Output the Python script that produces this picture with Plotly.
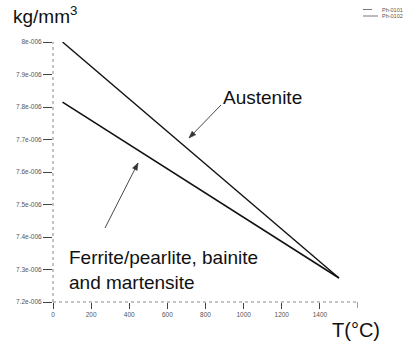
import math
import plotly.graph_objects as go

# Data
temp_austenite = [50, 1500]
dens_austenite = [8.0e-6, 7.274e-6]
temp_ferrite = [50, 1500]
dens_ferrite = [7.815e-6, 7.274e-6]

x_ticks = [0, 200, 400, 600, 800, 1000, 1200, 1400]
x_ticktext = ["0", "200", "400", "600", "800", "1000", "1200", "1400"]
y_ticks = [7.2e-6, 7.3e-6, 7.4e-6, 7.5e-6, 7.6e-6, 7.7e-6, 7.8e-6, 7.9e-6, 8.0e-6]
y_ticktext = ["7.2e-006", "7.3e-006", "7.4e-006", "7.5e-006", "7.6e-006",
              "7.7e-006", "7.8e-006", "7.9e-006", "8e-006"]
legend_names = ["Ph-0101", "Ph-0102"]

W, H = 415, 356
L, R, T, B = 53, 57, 42, 54
FONT = "Liberation Sans, Arial, sans-serif"

fig = go.Figure()
fig.add_trace(go.Scatter(x=temp_austenite, y=dens_austenite, mode="lines",
                         line=dict(color="#111", width=1.4), showlegend=False))
fig.add_trace(go.Scatter(x=temp_ferrite, y=dens_ferrite, mode="lines",
                         line=dict(color="#111", width=1.6), showlegend=False))


def pap(xp, yp):
    return (xp - L) / (W - L - R), ((H - B) - yp) / (H - T - B)


shapes = [
    dict(type="line", xref="paper", yref="paper", x0=0, x1=1.0, y0=0, y1=0,
         line=dict(color="#888", width=1, dash="dot")),
    dict(type="line", xref="paper", yref="paper", x0=0, x1=0, y0=0, y1=1.0,
         line=dict(color="#888", width=1, dash="dot")),
    # unlabelled end tick at 1600
    dict(type="line", xref="x", yref="paper", x0=1600, x1=1600, y0=0,
         y1=-6 / (H - T - B), line=dict(color="#444", width=1)),
]

annotations = []


def label(text, xp, yp, size, color="#111"):
    x, y = pap(xp, yp)
    annotations.append(dict(text=text, xref="paper", yref="paper", x=x, y=y,
                            xanchor="left", yanchor="middle", align="left",
                            showarrow=False,
                            font=dict(size=size, color=color, family=FONT)))


label("kg/mm<sup>3</sup>", 11, 15, 19)
label("T(°C)", 330, 330, 20)
label("Austenite", 221, 97, 19)
label("Ferrite/pearlite, bainite<br>and martensite", 67, 270, 19)

# pointer arrows drawn as shapes (tail -> head, in pixels)
for (x0, y0, x1, y1) in [(221, 105, 189, 138), (105, 228, 138, 163)]:
    a, b = pap(x0, y0)
    c, d = pap(x1, y1)
    shapes.append(dict(type="line", xref="paper", yref="paper",
                       x0=a, y0=b, x1=c, y1=d,
                       line=dict(color="#333", width=0.9)))
    ang = math.atan2(y1 - y0, x1 - x0)
    ln, wd = 7, 2.6
    bx, by = x1 - ln * math.cos(ang), y1 - ln * math.sin(ang)
    p1 = (bx + wd * math.sin(ang), by - wd * math.cos(ang))
    p2 = (bx - wd * math.sin(ang), by + wd * math.cos(ang))
    pts = [pap(x1, y1), pap(*p1), pap(*p2)]
    path = "M {} {} L {} {} L {} {} Z".format(pts[0][0], pts[0][1], pts[1][0],
                                             pts[1][1], pts[2][0], pts[2][1])
    shapes.append(dict(type="path", xref="paper", yref="paper", path=path,
                       fillcolor="#333", line=dict(color="#333", width=0.5)))

for i, name in enumerate(legend_names):
    yy = 9.5 + 6.5 * i
    x0p, y0p = pap(363, yy)
    x1p, _ = pap(378, yy)
    shapes.append(dict(type="line", xref="paper", yref="paper", x0=x0p, x1=x1p,
                       y0=y0p, y1=y0p,
                       line=dict(color="#555", width=0.8,
                                 dash="dash" if i == 0 else "solid")))
    label(name, 380, yy, 5.5, "#555")

fig.update_layout(
    width=W, height=H,
    margin=dict(l=L, r=R, t=T, b=B),
    paper_bgcolor="white", plot_bgcolor="white",
    showlegend=False,
    shapes=shapes,
    annotations=annotations,
    xaxis=dict(range=[0, 1600], tickvals=x_ticks, ticktext=x_ticktext,
               showgrid=False, zeroline=False, showline=False,
               ticks="outside", ticklen=6, tickcolor="#444", tickwidth=1,
               tickfont=dict(size=6.5, color="#555", family=FONT)),
    yaxis=dict(range=[7.2e-6, 8.0e-6], tickvals=y_ticks, ticktext=y_ticktext,
               showgrid=False, zeroline=False, showline=False,
               ticks="outside", ticklen=9, tickcolor="#444", tickwidth=1,
               tickfont=dict(size=6.5, color="#555", family=FONT)),
)

fig.write_html("out.html")
